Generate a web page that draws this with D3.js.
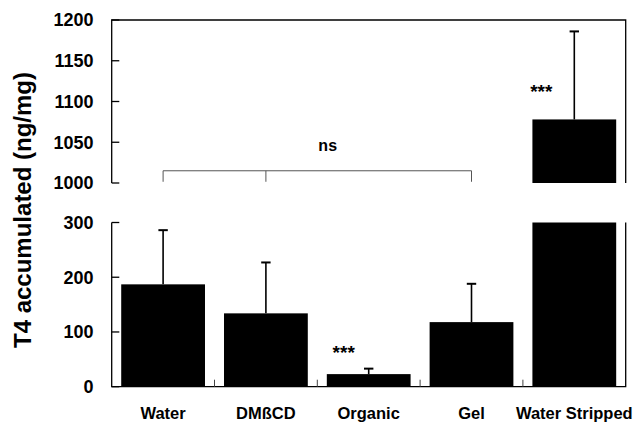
<!DOCTYPE html>
<html>
<head>
<meta charset="utf-8">
<script src="https://cdn.jsdelivr.net/npm/d3@7"></script>
<style>
  body { margin: 0; background: #fff; }
  text { font-family: "Liberation Sans", Arial, Helvetica, sans-serif; font-weight: bold; }
</style>
</head>
<body>
<svg width="635" height="423"></svg>
<script>
// data
const categories = ['Water', 'DMßCD', 'Organic', 'Gel', 'Water Stripped']
const means = [187, 134, 23, 118, 1078]
const errors = [99, 93, 10, 70, 108]
const stars = ['', '', '***', '', '***']
const lowTicks = [0, 100, 200, 300]
const highTicks = [1000, 1050, 1100, 1150, 1200]
const nsGroup = ['Water', 'DMßCD', 'Gel']

const svg = d3.select('svg')

const left = 111.7, right = 625.7

const x = d3.scaleBand()
    .domain(categories)
    .range([left, right])
    .paddingInner(0.185)
    .paddingOuter(0.0925)

// two pieces of the broken axis
const yLow = d3.scaleLinear()
    .domain([0, 300])
    .range([386.7, 222.5])
    .clamp(true)

const yHigh = d3.scaleLinear()
    .domain([1000, 1200])
    .range([183, 20])
    .clamp(true)

const data = categories.map((c, i) => ({ c, m: means[i], e: errors[i], s: stars[i] }))

// bars, lower piece
svg.append('g')
    .selectAll('rect')
    .data(data)
    .join('rect')
    .attr('x', d => x(d.c))
    .attr('width', x.bandwidth())
    .attr('y', d => yLow(d.m))
    .attr('height', d => yLow(0) - yLow(d.m))
    .attr('fill', '#000')

// bars, upper piece
svg.append('g')
    .selectAll('rect')
    .data(data.filter(d => d.m > 1000))
    .join('rect')
    .attr('x', d => x(d.c))
    .attr('width', x.bandwidth())
    .attr('y', d => yHigh(d.m))
    .attr('height', d => yHigh(1000) - yHigh(d.m))
    .attr('fill', '#000')

// error bars (upper half only)
const errG = svg.append('g').attr('stroke', '#000').attr('stroke-width', 1.6)
data.forEach(d => {
    const y = d.m > 1000 ? yHigh : yLow
    const cx = x(d.c) + x.bandwidth() / 2
    errG.append('line')
        .attr('x1', cx).attr('x2', cx)
        .attr('y1', y(d.m)).attr('y2', y(d.m + d.e))
    errG.append('line')
        .attr('x1', cx - 4.7).attr('x2', cx + 4.7)
        .attr('y1', y(d.m + d.e)).attr('y2', y(d.m + d.e))
        .attr('stroke-width', 2)
})

// significance stars
svg.append('g')
    .selectAll('text')
    .data(data.filter(d => d.s))
    .join('text')
    .attr('x', d => x(d.c) + x.bandwidth() / 2 - (d.m > 1000 ? 33 : 25))
    .attr('y', d => d.m > 1000 ? yHigh(d.m) - 21 : yLow(d.m + d.e) - 10)
    .attr('text-anchor', 'middle')
    .attr('font-size', 19)
    .text(d => d.s)

// frame and axes
const frame = svg.append('g').attr('fill', 'none').attr('stroke', '#000').attr('stroke-width', 1.3)
frame.append('path')
    .attr('d', `M${left},${yHigh(1000)}V${yHigh(1200)}H${right}V${yHigh(1000)}`)
frame.append('path')
    .attr('d', `M${left},${yLow(300)}V${yLow(0)}H${right}V${yLow(300)}`)

const tickG = svg.append('g').attr('stroke', '#000').attr('stroke-width', 1.3)
tickG.selectAll('line.hi')
    .data(highTicks)
    .join('line')
    .attr('class', 'hi')
    .attr('x1', left).attr('x2', left + 7.6)
    .attr('y1', d => yHigh(d)).attr('y2', d => yHigh(d))
tickG.selectAll('line.lo')
    .data(lowTicks)
    .join('line')
    .attr('class', 'lo')
    .attr('x1', left).attr('x2', left + 7.6)
    .attr('y1', d => yLow(d)).attr('y2', d => yLow(d))

// category separators on the x axis
svg.append('g')
    .selectAll('line')
    .data(categories.slice(1))
    .join('line')
    .attr('x1', d => x(d) - x.step() * x.paddingInner() / 2)
    .attr('x2', d => x(d) - x.step() * x.paddingInner() / 2)
    .attr('y1', yLow(0))
    .attr('y2', yLow(0) - 7)
    .attr('stroke', '#444')
    .attr('stroke-width', 1)

const labels = svg.append('g').attr('font-size', 18).attr('text-anchor', 'end')
labels.selectAll('text.hi')
    .data(highTicks)
    .join('text')
    .attr('class', 'hi')
    .attr('x', 93.5)
    .attr('y', d => yHigh(d))
    .attr('dy', '0.35em')
    .text(d => d)
labels.selectAll('text.lo')
    .data(lowTicks)
    .join('text')
    .attr('class', 'lo')
    .attr('x', 93.5)
    .attr('y', d => yLow(d))
    .attr('dy', '0.35em')
    .text(d => d)

svg.append('g')
    .selectAll('text')
    .data(categories)
    .join('text')
    .attr('x', d => x(d) + x.bandwidth() / 2)
    .attr('y', 419)
    .attr('text-anchor', 'middle')
    .attr('font-size', 16.5)
    .text(d => d)

// y title
svg.append('text')
    .attr('transform', 'translate(31,210) rotate(-90)')
    .attr('text-anchor', 'middle')
    .attr('font-size', 24)
    .text('T4 accumulated (ng/mg)')

// ns bracket
const bx = nsGroup.map(c => x(c) + x.bandwidth() / 2)
const bracket = svg.append('g').attr('fill', 'none').attr('stroke', '#555').attr('stroke-width', 1)
bracket.append('line')
    .attr('x1', d3.min(bx)).attr('x2', d3.max(bx))
    .attr('y1', yHigh(1015)).attr('y2', yHigh(1015))
bracket.selectAll('line.t')
    .data(bx)
    .join('line')
    .attr('class', 't')
    .attr('x1', d => d).attr('x2', d => d)
    .attr('y1', yHigh(1015)).attr('y2', yHigh(1001.5))
svg.append('text')
    .attr('x', 327.7)
    .attr('y', yHigh(1015) - 20)
    .attr('text-anchor', 'middle')
    .attr('font-size', 16)
    .text('ns')
</script>
</body>
</html>
